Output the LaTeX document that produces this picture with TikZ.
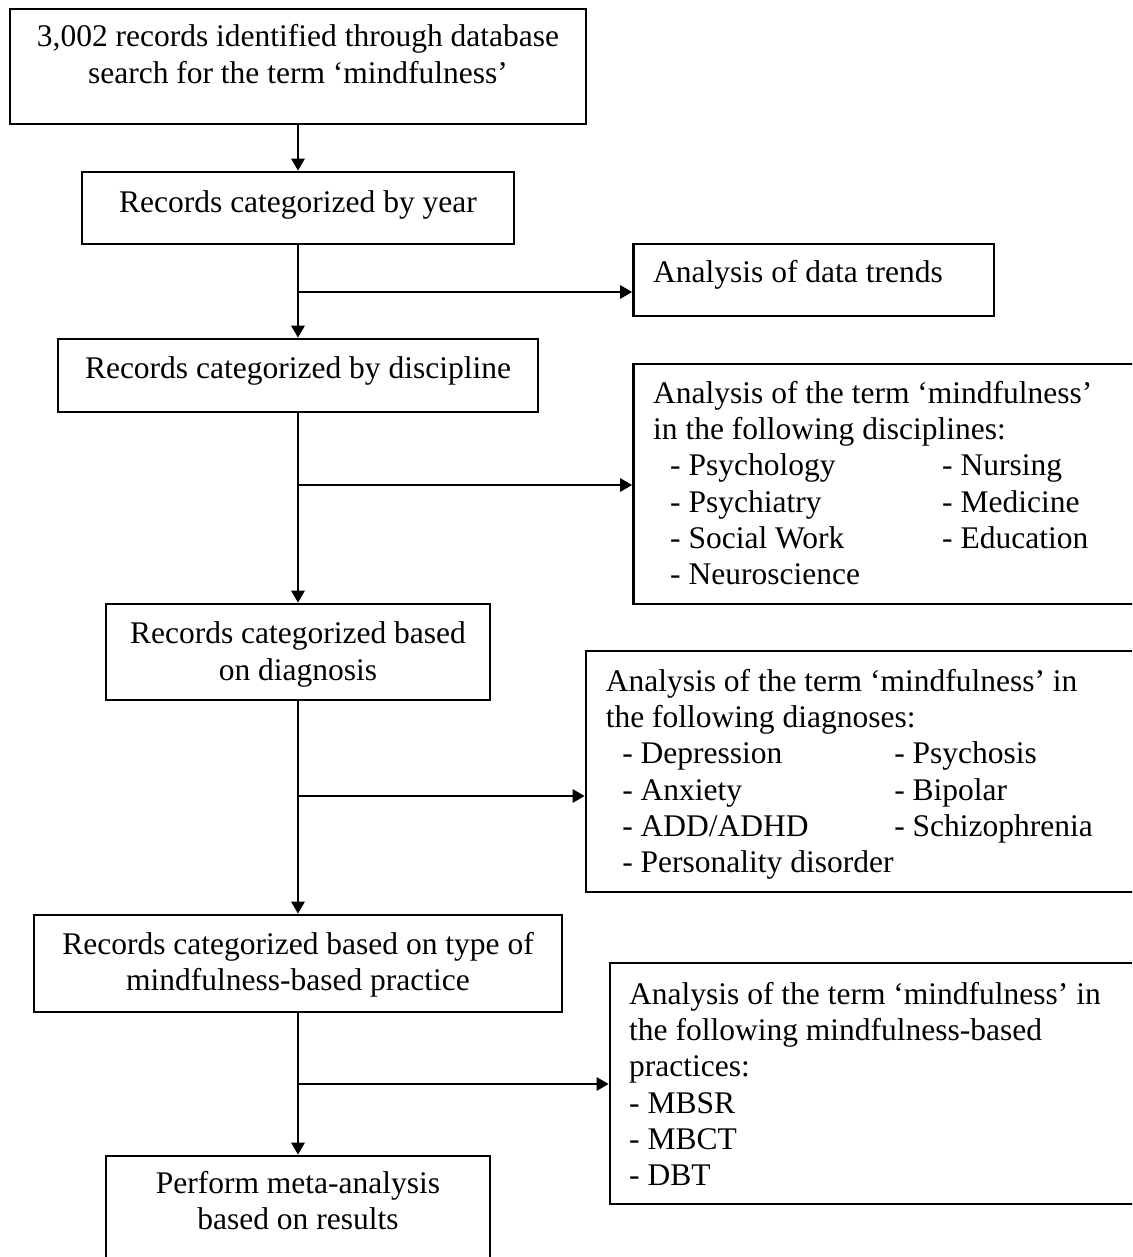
\documentclass[tikz,border=0pt]{standalone}
\usepackage{fontspec}
\setmainfont{Liberation Serif}
\usetikzlibrary{arrows.meta}
\newcommand\tf{\fontsize{31.5}{36.3}\selectfont}
\tikzset{
  box/.style={draw, line width=2.6pt, inner sep=0pt},
  ctext/.style={inner sep=0pt, anchor=north, align=center, font=\tf},
  ltext/.style={inner sep=0pt, anchor=north west, align=left, font=\tf},
  arr/.style={line width=2.6pt, -{Triangle[length=12pt,width=13pt]}},
}
\begin{document}
\begin{tikzpicture}[x=1pt,y=-1pt]
\useasboundingbox (0,0) rectangle (1132,1257);
\clip (0,0) rectangle (1132,1257);

% main column boxes
\node[box, minimum width=576pt, minimum height=115pt] (b1) at (298,66.5) {};
\node[box, minimum width=432pt, minimum height=72pt] (b2) at (298,208) {};
\node[box, minimum width=480pt, minimum height=73pt] (b3) at (298,375.5) {};
\node[box, minimum width=384pt, minimum height=96pt] (b4) at (298,652) {};
\node[box, minimum width=528pt, minimum height=97pt] (b5) at (298,963.5) {};
\node[box, minimum width=384pt, minimum height=124pt] (b6) at (298,1218) {};

\node[ctext] (t1) at (298,21.1) {\strut 3,002 records identified through database\\search for the term ‘mindfulness’};
\node[ctext] (t2) at (298,186.6) {\strut Records categorized by year};
\node[ctext] (t3) at (298,352.6) {\strut Records categorized by discipline};
\node[ctext] (t4) at (298,618.3) {\strut Records categorized based\\on diagnosis};
\node[ctext] (t5) at (298,928.6) {\strut Records categorized based on type of\\mindfulness-based practice};
\node[ctext] (t6) at (298,1168) {\strut Perform meta-analysis\\based on results};

% right boxes
\node[box, minimum width=360.5pt, minimum height=72pt] (r1) at (813.75,280) {};
\node[box, minimum width=516.5pt, minimum height=240pt] (r2) at (891.75,484) {};
\node[box, minimum width=564pt, minimum height=241pt] (r3) at (868,771.5) {};
\node[box, minimum width=540pt, minimum height=241pt] (r4) at (880,1083.5) {};

\node[ltext] (s1) at (653,257.3) {\strut Analysis of data trends};
\node[ltext] (s2) at (653,377.6) {\strut Analysis of the term ‘mindfulness’\\
in the following disciplines:\\
\hspace*{17pt}\makebox[272pt][l]{- Psychology}- Nursing\\
\hspace*{17pt}\makebox[272pt][l]{- Psychiatry}- Medicine\\
\hspace*{17pt}\makebox[272pt][l]{- Social Work}- Education\\
\hspace*{17pt}- Neuroscience};
\node[ltext] (s3) at (605.6,665.6) {\strut Analysis of the term ‘mindfulness’ in\\
the following diagnoses:\\
\hspace*{16.5pt}\makebox[272pt][l]{- Depression}- Psychosis\\
\hspace*{16.5pt}\makebox[272pt][l]{- Anxiety}- Bipolar\\
\hspace*{16.5pt}\makebox[272pt][l]{- ADD/ADHD}- Schizophrenia\\
\hspace*{16.5pt}- Personality disorder};
\node[ltext] (s4) at (629,978.6) {\strut Analysis of the term ‘mindfulness’ in\\
the following mindfulness-based\\
practices:\\
- MBSR\\
- MBCT\\
- DBT};

% junctions
\coordinate (j1) at (298,292);
\coordinate (j2) at (298,485);
\coordinate (j3) at (298,796);
\coordinate (j4) at (298,1084);

% connectors
\draw[arr] (b1.south) -- (b2.north);
\draw[arr] (b2.south) -- (b3.north);
\draw[arr] (b3.south) -- (b4.north);
\draw[arr] (b4.south) -- (b5.north);
\draw[arr] (b5.south) -- (b6.north);
\draw[arr] (j1) -- (j1 -| r1.west);
\draw[arr] (j2) -- (j2 -| r2.west);
\draw[arr] (j3) -- (j3 -| r3.west);
\draw[arr] (j4) -- (j4 -| r4.west);
\end{tikzpicture}
\end{document}
